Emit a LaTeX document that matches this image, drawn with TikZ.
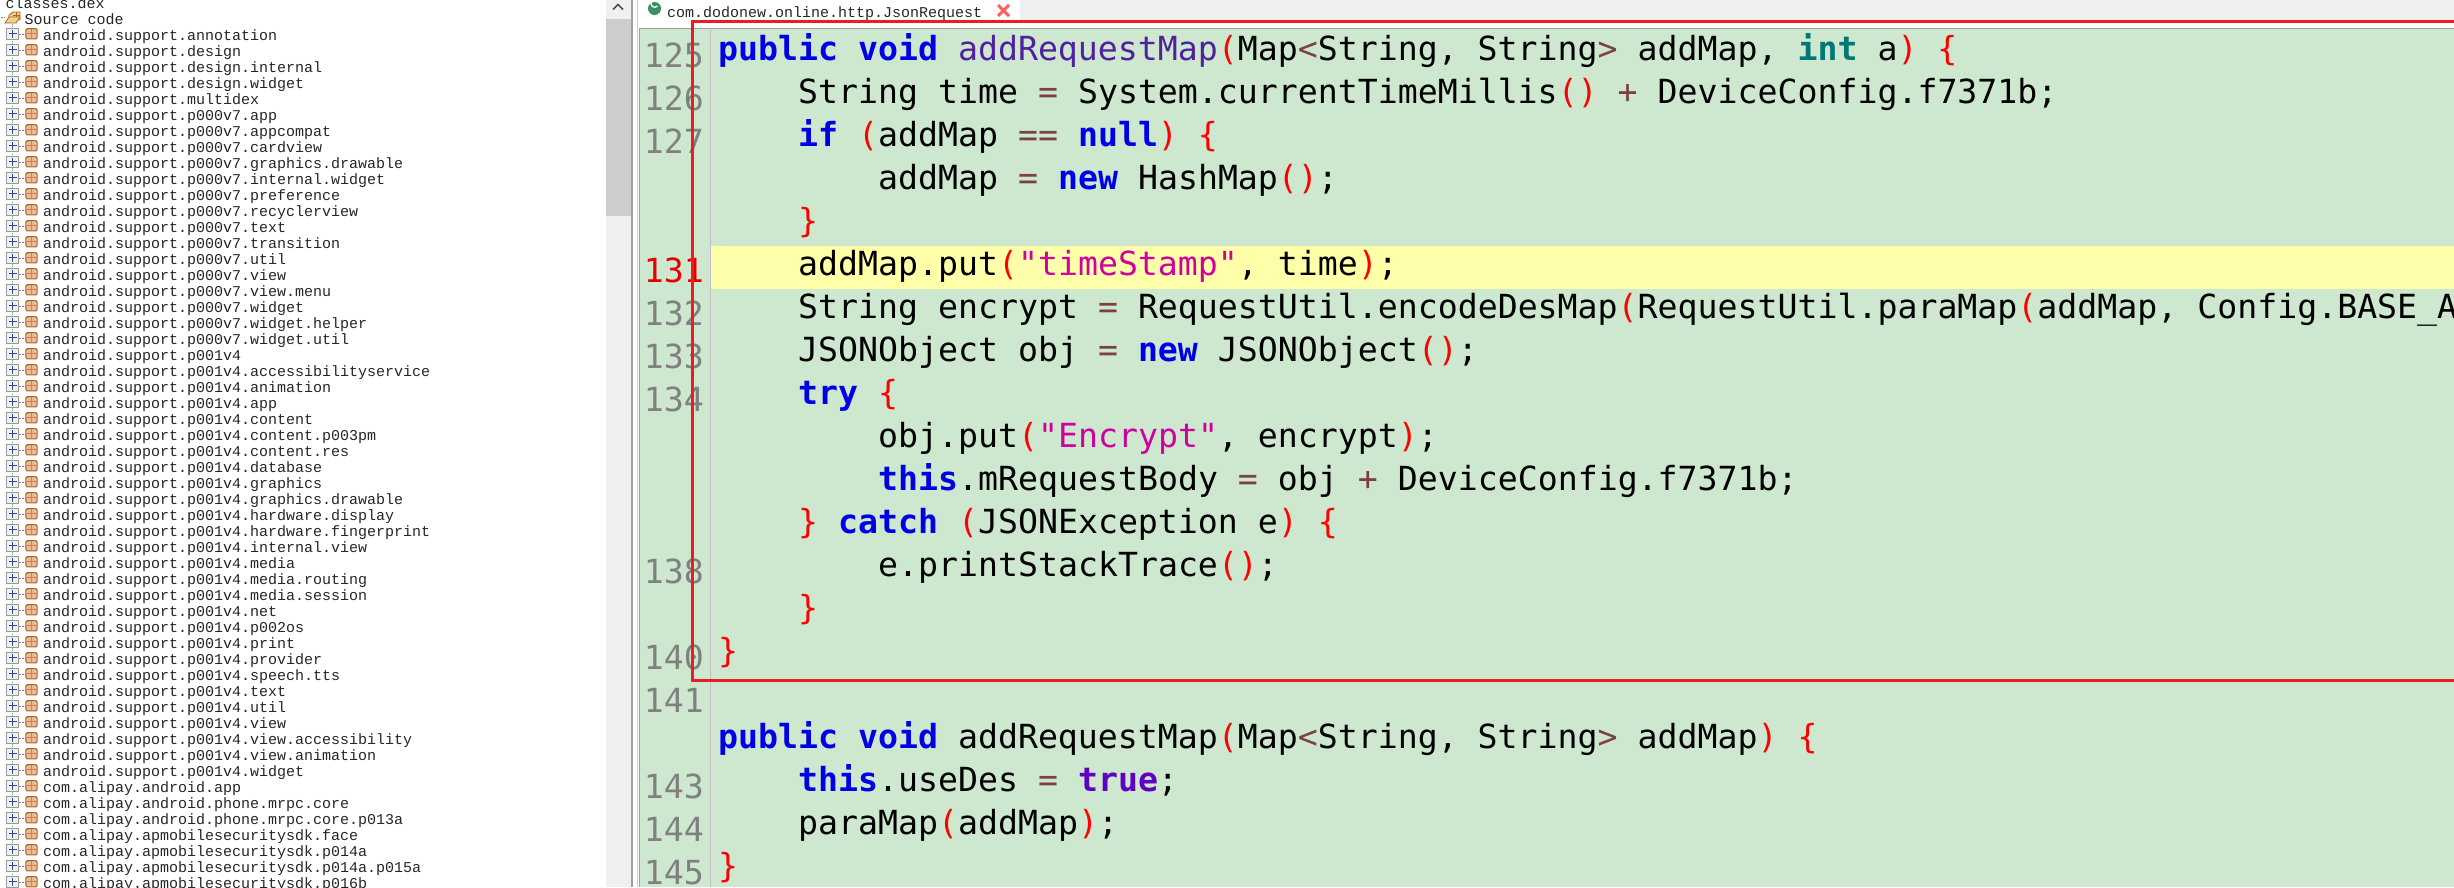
\documentclass[tikz,border=0pt]{standalone}
\usepackage{fontspec}
\newfontfamily\treefont{Liberation Mono}
\newfontfamily\codefont{DejaVu Sans Mono}
\definecolor{editorgreen}{HTML}{CDE8CF}
\definecolor{currentline}{HTML}{FFFFAA}
\definecolor{barthumb}{HTML}{CDCDCD}
\definecolor{bartrack}{HTML}{F0F0F0}
\definecolor{framegray}{HTML}{A0A0A0}
\definecolor{markred}{HTML}{ED1C24}
\definecolor{kwblue}{HTML}{0000E6}
\definecolor{opbrown}{HTML}{7B4040}
\definecolor{strpink}{HTML}{D000A0}
\definecolor{methodpurple}{HTML}{5020A0}
\definecolor{truepurple}{HTML}{6000C0}
\definecolor{intteal}{HTML}{007878}
\definecolor{pkgbrown}{HTML}{B06020}
\definecolor{pkgtan}{HTML}{E6BC90}
\definecolor{folderyellow}{HTML}{F0D090}
\definecolor{plusnavy}{HTML}{304A80}
\definecolor{tabgreen}{HTML}{3A8F5A}
\newcommand{\kw}[1]{\textcolor{kwblue}{\bfseries #1}}
\newcommand{\br}[1]{\textcolor{red}{#1}}
\newcommand{\op}[1]{\textcolor{opbrown}{#1}}
\newcommand{\str}[1]{\textcolor{strpink}{#1}}
\tikzset{
    treerow/.style={anchor=base west, inner sep=0pt, text=black!85, font=\treefont\fontsize{15}{16}\selectfont},
    codeline/.style={anchor=base west, inner sep=0pt, text=black, font=\codefont\fontsize{33.2}{43}\selectfont},
    linenum/.style={anchor=base east, inner sep=0pt, text=gray, font=\codefont\fontsize{33.2}{43}\selectfont},
}
\begin{document}
\begin{tikzpicture}[x=1pt, y=-1pt]
    \useasboundingbox (0, 0) rectangle (2454, 887);
    \clip (0, 0) rectangle (2454, 887);
    % tree pane
    \fill[white] (0, 0) rectangle (2454, 887);
    \fill[bartrack] (606, 0) rectangle (630.5, 887);
    \fill[barthumb] (606, 19) rectangle (630.5, 216);
    \draw[black!70, line width=1.5] (613, 9.5) -- (618, 4.5) -- (623, 9.5);
    \node[treerow] (classes) at (5.5, 8) {classes.dex};
    \draw[gray, densely dotted] (1, 17.5) -- (5, 17.5);
    \fill[folderyellow, draw=pkgbrown, line width=0.8] (9, 17) -- (9, 15) -- (13, 12) -- (20, 12) -- (20, 20) -- cycle;
    \draw[pkgbrown, line width=0.7] (13, 15) -- (20, 15) (16, 12) -- (16, 17);
    \fill[folderyellow, draw=pkgbrown, line width=0.8] (5, 23) -- (9, 17) -- (20, 17) -- (16, 23) -- cycle;
    \node[treerow] (source) at (24.5, 24) {Source code};
    \draw[gray, dotted] (12.6, 24) -- (12.6, 887);
    \foreach \pkg [count=\i from 0] in {
        android.support.annotation, android.support.design, android.support.design.internal,
        android.support.design.widget, android.support.multidex, android.support.p000v7.app,
        android.support.p000v7.appcompat, android.support.p000v7.cardview,
        android.support.p000v7.graphics.drawable, android.support.p000v7.internal.widget,
        android.support.p000v7.preference, android.support.p000v7.recyclerview,
        android.support.p000v7.text, android.support.p000v7.transition,
        android.support.p000v7.util, android.support.p000v7.view,
        android.support.p000v7.view.menu, android.support.p000v7.widget,
        android.support.p000v7.widget.helper, android.support.p000v7.widget.util,
        android.support.p001v4, android.support.p001v4.accessibilityservice,
        android.support.p001v4.animation, android.support.p001v4.app,
        android.support.p001v4.content, android.support.p001v4.content.p003pm,
        android.support.p001v4.content.res, android.support.p001v4.database,
        android.support.p001v4.graphics, android.support.p001v4.graphics.drawable,
        android.support.p001v4.hardware.display, android.support.p001v4.hardware.fingerprint,
        android.support.p001v4.internal.view, android.support.p001v4.media,
        android.support.p001v4.media.routing, android.support.p001v4.media.session,
        android.support.p001v4.net, android.support.p001v4.p002os,
        android.support.p001v4.print, android.support.p001v4.provider,
        android.support.p001v4.speech.tts, android.support.p001v4.text,
        android.support.p001v4.util, android.support.p001v4.view,
        android.support.p001v4.view.accessibility, android.support.p001v4.view.animation,
        android.support.p001v4.widget, com.alipay.android.app,
        com.alipay.android.phone.mrpc.core, com.alipay.android.phone.mrpc.core.p013a,
        com.alipay.apmobilesecuritysdk.face, com.alipay.apmobilesecuritysdk.p014a,
        com.alipay.apmobilesecuritysdk.p014a.p015a, com.alipay.apmobilesecuritysdk.p016b} {
        \pgfmathsetmacro{\rowy}{40 + 16*\i}
        \pgfmathsetmacro{\boxy}{33.7 + 16*\i}
        \begin{scope}[shift={(0, \boxy)}]
            \draw[gray, densely dotted] (19, 0) -- (25, 0);
            \fill[bartrack, draw=gray!80, line width=0.9] (6.5, -5.5) rectangle (18.8, 5.5);
            \draw[plusnavy, line width=1] (8.6, 0) -- (16.7, 0) (12.65, -4) -- (12.65, 4);
            \fill[pkgtan, draw=pkgbrown, line width=1, rounded corners=1.5] (25.8, -5.2) rectangle (37.2, 5.2);
            \draw[pkgbrown!75, line width=0.8] (25.8, 0) -- (37.2, 0) (31.5, -5.2) -- (31.5, 5.2);
        \end{scope}
        \node[treerow] (pkg\i) at (43, \rowy) {\pkg};
    }
    % tab strip
    \fill[bartrack] (1020, 0) rectangle (2454, 21);
    \draw[framegray, line width=1.2] (632, 0) -- (632, 887);
    \draw[black!20] (637.5, 0) -- (637.5, 887);
    \fill[tabgreen] (654.5, 8.5) circle [radius=6.5];
    \draw[white, line width=1.3] (657.5, 6) arc [start angle=40, end angle=320, radius=3.7];
    \node[treerow] (tabname) at (667, 17) {com.dodonew.online.http.JsonRequest};
    \draw[red!50!pink, line width=3] (998, 5) -- (1009, 16) (1009, 5) -- (998, 16);
    % editor
    \fill[editorgreen] (639, 28) rectangle (2454, 887);
    \draw[framegray] (639, 28) -- (639, 887);
    \draw[framegray] (639, 28) -- (2454, 28);
    \fill[currentline] (710.5, 246) rectangle (2454, 289);
    \draw[black!25] (710.5, 28) -- (710.5, 887);
    \foreach \num/\numy in {125/67, 126/110, 127/153, 132/325, 133/368, 134/411, 138/583, 140/669, 141/712, 143/798, 144/841, 145/884} {
        \node[linenum] (num\num) at (704, \numy) {\num};
    }
    \node[linenum, text=red!90!black] (num131) at (704, 282) {131};
    \node[codeline] (line125) at (718, 60) {\kw{public void} \textcolor{methodpurple}{addRequestMap}\br{(}Map\op{<}String, String\op{>} addMap, \textcolor{intteal}{\bfseries int} a\br{)} \br{\{}};
    \node[codeline] (line126) at (798, 103) {String time \op{=} System.currentTimeMillis\br{()} \op{+} DeviceConfig.f7371b;};
    \node[codeline] (line127) at (798, 146) {\kw{if} \br{(}addMap \op{==} \kw{null}\br{)} \br{\{}};
    \node[codeline] (line128) at (878, 189) {addMap \op{=} \kw{new} HashMap\br{()};};
    \node[codeline] (line129) at (798, 232) {\br{\}}};
    \node[codeline] (line131) at (798, 275) {addMap.put\br{(}\str{"timeStamp"}, time\br{)};};
    \node[codeline] (line132) at (798, 318) {String encrypt \op{=} RequestUtil.encodeDesMap\br{(}RequestUtil.paraMap\br{(}addMap, Config.BASE\_A};
    \node[codeline] (line133) at (798, 361) {JSONObject obj \op{=} \kw{new} JSONObject\br{()};};
    \node[codeline] (line134) at (798, 404) {\kw{try} \br{\{}};
    \node[codeline] (line135) at (878, 447) {obj.put\br{(}\str{"Encrypt"}, encrypt\br{)};};
    \node[codeline] (line136) at (878, 490) {\kw{this}.mRequestBody \op{=} obj \op{+} DeviceConfig.f7371b;};
    \node[codeline] (line137) at (798, 533) {\br{\}} \kw{catch} \br{(}JSONException e\br{)} \br{\{}};
    \node[codeline] (line138) at (878, 576) {e.printStackTrace\br{()};};
    \node[codeline] (line139) at (798, 619) {\br{\}}};
    \node[codeline] (line140) at (718, 662) {\br{\}}};
    \node[codeline] (line142) at (718, 748) {\kw{public void} addRequestMap\br{(}Map\op{<}String, String\op{>} addMap\br{)} \br{\{}};
    \node[codeline] (line143) at (798, 791) {\kw{this}.useDes \op{=} \textcolor{truepurple}{\bfseries true};};
    \node[codeline] (line144) at (798, 834) {paraMap\br{(}addMap\br{)};};
    \node[codeline] (line145) at (718, 877) {\br{\}}};
    % red mark
    \draw[markred, line width=3] (2460, 21.7) -- (692, 21.7) -- (692, 680) -- (2460, 680);
\end{tikzpicture}
\end{document}
